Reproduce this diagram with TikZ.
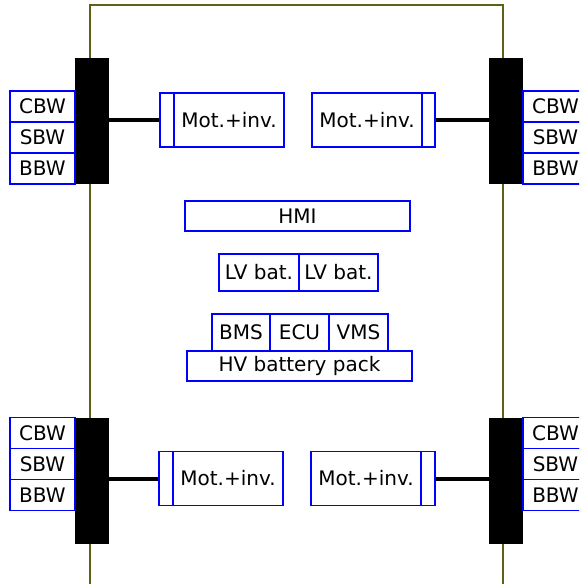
\documentclass[tikz,border=0pt]{standalone}
\usepackage{fontspec}
\setmainfont{DejaVu Sans}
\definecolor{framecol}{RGB}{96,96,24}
\begin{document}
\begin{tikzpicture}[x=1pt,y=-1pt,
  box/.style={draw=blue,line width=1.1pt,fill=white,inner sep=0pt,font=\fontsize{20pt}{24pt}\selectfont,anchor=center},
  blk/.style={fill=black,draw=none,minimum width=34pt,minimum height=126pt,inner sep=0pt},
  shaft/.style={line width=4pt,black},
  frameline/.style={line width=2pt,framecol}]
\useasboundingbox (0,0) rectangle (579,584);
\clip (0,0) rectangle (579,584);
% frame
\coordinate (fbl) at (90,590);
\coordinate (ftl) at (90,5);
\coordinate (ftr) at (503,5);
\coordinate (fbr) at (503,590);
\draw[frameline] (fbl) -- (ftl) -- (ftr) -- (fbr);
% top left corner
\node[blk] (blkA) at (92,121) {};
\node[box,minimum width=65pt,minimum height=31pt] (cbwA) at (42.5,106.5) {CBW};
\node[box,minimum width=65pt,minimum height=31pt] (sbwA) at (42.5,137.5) {SBW};
\node[box,minimum width=65pt,minimum height=31pt] (bbwA) at (42.5,168.5) {BBW};
\node[box,minimum width=14pt,minimum height=54pt] (motAn) at (167,120) {};
\node[box,minimum width=110pt,minimum height=54pt] (motA) at (229,120) {Mot.+inv.};
\draw[shaft] (blkA.east |- motAn.west) -- (motAn.west);
% top right corner
\node[blk] (blkB) at (506,121) {};
\node[box,minimum width=65pt,minimum height=31pt] (cbwB) at (555.5,106.5) {CBW};
\node[box,minimum width=65pt,minimum height=31pt] (sbwB) at (555.5,137.5) {SBW};
\node[box,minimum width=65pt,minimum height=31pt] (bbwB) at (555.5,168.5) {BBW};
\node[box,minimum width=13pt,minimum height=54pt] (motBn) at (428.5,120) {};
\node[box,minimum width=110pt,minimum height=54pt] (motB) at (367,120) {Mot.+inv.};
\draw[shaft] (motBn.east) -- (blkB.west |- motBn.east);
% bottom left corner
\node[blk] (blkC) at (92,480.5) {};
\node[box,minimum width=65pt,minimum height=31pt] (cbwC) at (42.5,433) {CBW};
\node[box,minimum width=65pt,minimum height=31pt] (sbwC) at (42.5,464) {SBW};
\node[box,minimum width=65pt,minimum height=31pt] (bbwC) at (42.5,495) {BBW};
\node[box,minimum width=14pt,minimum height=54pt] (motCn) at (166,478.5) {};
\node[box,minimum width=110pt,minimum height=54pt] (motC) at (228,478.5) {Mot.+inv.};
\draw[shaft] (blkC.east |- motCn.west) -- (motCn.west);
% bottom right corner
\node[blk] (blkD) at (506,480.5) {};
\node[box,minimum width=65pt,minimum height=31pt] (cbwD) at (555.5,433) {CBW};
\node[box,minimum width=65pt,minimum height=31pt] (sbwD) at (555.5,464) {SBW};
\node[box,minimum width=65pt,minimum height=31pt] (bbwD) at (555.5,495) {BBW};
\node[box,minimum width=14pt,minimum height=54pt] (motDn) at (428,478.5) {};
\node[box,minimum width=110pt,minimum height=54pt] (motD) at (366,478.5) {Mot.+inv.};
\draw[shaft] (motDn.east) -- (blkD.west |- motDn.east);
% centre
\node[box,minimum width=225pt,minimum height=30pt] (hmi) at (297.5,216) {HMI};
\node[box,minimum width=80pt,minimum height=37pt] (lv1) at (259,272.5) {LV bat.};
\node[box,minimum width=79pt,minimum height=37pt] (lv2) at (338.5,272.5) {LV bat.};
\node[box,minimum width=58pt,minimum height=37pt] (bms) at (241,332.5) {BMS};
\node[box,minimum width=59pt,minimum height=37pt] (ecu) at (299.5,332.5) {ECU};
\node[box,minimum width=59pt,minimum height=37pt] (vms) at (358.5,332.5) {VMS};
\node[box,minimum width=225pt,minimum height=30pt] (hv) at (299.5,366) {HV battery pack};
\end{tikzpicture}
\end{document}
